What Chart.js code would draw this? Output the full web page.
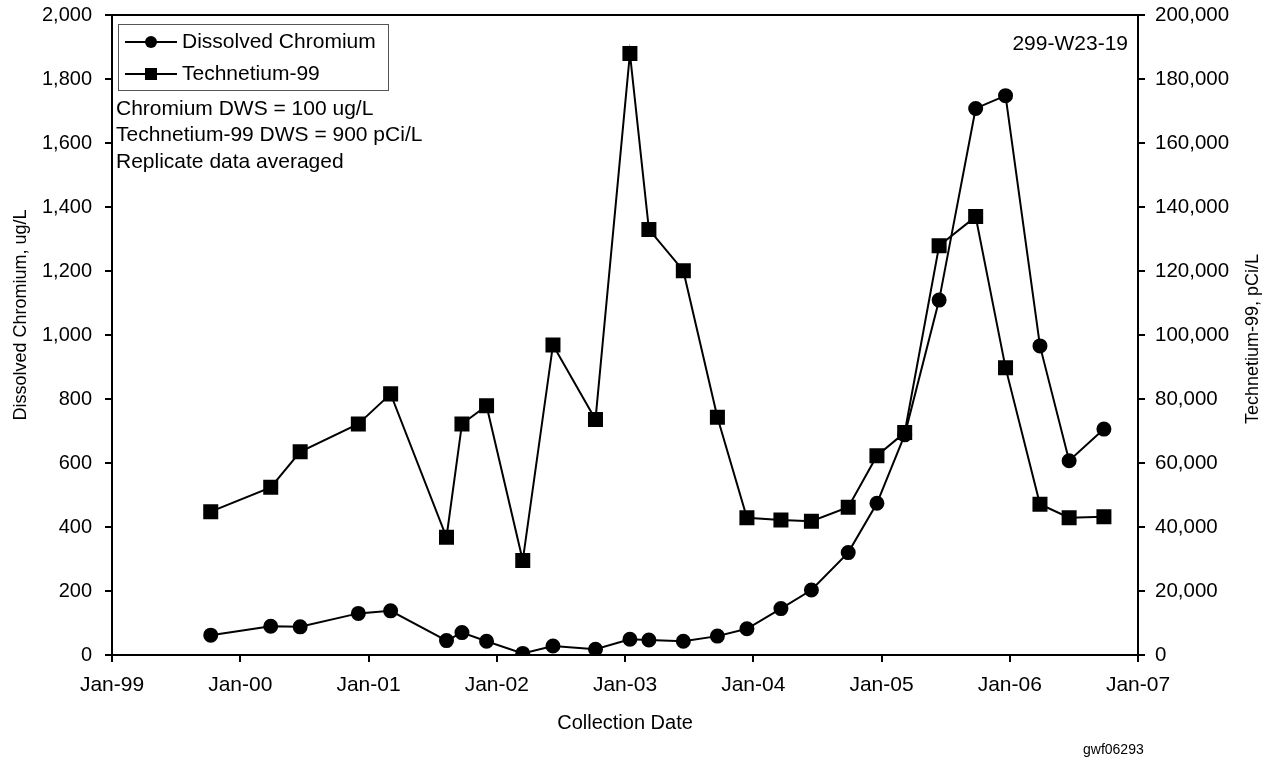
<!DOCTYPE html>
<html>
<head>
<meta charset="utf-8">
<script src="https://cdn.jsdelivr.net/npm/chart.js@4.4.0/dist/chart.umd.min.js"></script>
<style>
  html, body { margin: 0; padding: 0; background: #fff; }
  #wrap { width: 1273px; height: 763px; }
</style>
</head>
<body>
<div id="wrap"><canvas id="chart"></canvas></div>
<script>
// Sample dates
const sampleDates = [
  "1999-10-09", "2000-03-28", "2000-06-20", "2000-12-03", "2001-03-05",
  "2001-08-11", "2001-09-24", "2001-12-03", "2002-03-16", "2002-06-10",
  "2002-10-09", "2003-01-15", "2003-03-10", "2003-06-16", "2003-09-21",
  "2003-12-14", "2004-03-20", "2004-06-15", "2004-09-28", "2004-12-19",
  "2005-03-08", "2005-06-14", "2005-09-26", "2005-12-20", "2006-03-28",
  "2006-06-19", "2006-09-26"
];
// Dissolved chromium, ug/L (left axis)
const chromium = [
  62, 90, 88, 130, 138, 45, 70, 43, 5, 28,
  18, 49, 47, 43, 59, 82, 145, 203, 320, 474,
  688, 1109, 1708, 1748, 966, 607, 706
];
// Technetium-99, pCi/L (right axis)
const technetium = [
  44800, 52400, 63500, 72200, 81600, 36800, 72200, 77900, 29500, 96900,
  73600, 188000, 133000, 120100, 74300, 42900, 42200, 41800, 46200, 62300,
  69500, 127900, 137000, 89800, 47100, 42900, 43200
];
const notes = ["Chromium DWS = 100 ug/L", "Technetium-99 DWS = 900 pCi/L", "Replicate data averaged"];
const wellName = "299-W23-19";
const figureId = "gwf06293";

const FONT = '"Liberation Sans", Arial, sans-serif';
Chart.defaults.font.family = FONT;
Chart.defaults.color = "#000";

// date string -> decimal year
function decYear(s) {
  const d = new Date(s + "T00:00:00Z");
  const y = d.getUTCFullYear();
  const start = Date.UTC(y, 0, 1), end = Date.UTC(y + 1, 0, 1);
  return y + (d.getTime() - start) / (end - start);
}
const xs = sampleDates.map(decYear);

const fmt = v => Number(v).toLocaleString("en-US");

// frame, legend box, notes, axis titles
const extras = {
  id: "extras",
  afterDraw(chart) {
    const ctx = chart.ctx;
    const a = chart.chartArea;
    ctx.save();
    ctx.strokeStyle = "#000";
    ctx.lineWidth = 2;
    ctx.strokeRect(a.left, a.top, a.right - a.left, a.bottom - a.top);

    // legend
    ctx.lineWidth = 1;
    ctx.strokeStyle = "#555";
    ctx.strokeRect(118.5, 24.5, 270, 66);
    const items = [
      { label: "Dissolved Chromium", y: 42, style: "circle" },
      { label: "Technetium-99", y: 74, style: "rect" }
    ];
    items.forEach(it => {
      ctx.strokeStyle = "#000";
      ctx.lineWidth = 2;
      ctx.beginPath();
      ctx.moveTo(125, it.y);
      ctx.lineTo(177, it.y);
      ctx.stroke();
      ctx.fillStyle = "#000";
      if (it.style === "circle") {
        ctx.beginPath();
        ctx.arc(151, it.y, 6, 0, Math.PI * 2);
        ctx.fill();
      } else {
        ctx.fillRect(145, it.y - 6, 12, 12);
      }
      ctx.font = "21px " + FONT;
      ctx.textAlign = "left";
      ctx.textBaseline = "middle";
      ctx.fillText(it.label, 182, it.y);
    });

    // notes
    ctx.font = "21px " + FONT;
    ctx.textAlign = "left";
    ctx.textBaseline = "middle";
    notes.forEach((t, i) => ctx.fillText(t, 116, 109 + i * 26.5));

    ctx.textAlign = "right";
    ctx.fillText(wellName, 1128, 44);

    // axis titles (both read bottom to top)
    ctx.font = "18px " + FONT;
    ctx.textAlign = "center";
    [["Dissolved Chromium, ug/L", 21, 315], ["Technetium-99, pCi/L", 1253, 339]].forEach(t => {
      ctx.save();
      ctx.translate(t[1], t[2]);
      ctx.rotate(-Math.PI / 2);
      ctx.fillText(t[0], 0, 0);
      ctx.restore();
    });

    ctx.font = "14px " + FONT;
    ctx.textAlign = "left";
    ctx.fillText(figureId, 1083, 750);
    ctx.restore();
  }
};

const axisGrid = { drawOnChartArea: false, drawTicks: true, tickLength: 7, color: "#000", lineWidth: 2 };
const axisBorder = { display: true, color: "#000", width: 2 };

new Chart(document.getElementById("chart"), {
  type: "line",
  data: {
    datasets: [
      {
        label: "Dissolved Chromium",
        data: xs.map((x, i) => ({ x: x, y: chromium[i] })),
        yAxisID: "y",
        borderColor: "#000",
        backgroundColor: "#000",
        borderWidth: 2,
        pointStyle: "circle",
        pointRadius: 6.5,
        tension: 0
      },
      {
        label: "Technetium-99",
        data: xs.map((x, i) => ({ x: x, y: technetium[i] })),
        yAxisID: "y2",
        borderColor: "#000",
        backgroundColor: "#000",
        borderWidth: 2,
        pointStyle: "rect",
        pointRadius: 9.2,
        tension: 0
      }
    ]
  },
  options: {
    responsive: true,
    maintainAspectRatio: false,
    animation: false,
    layout: { padding: { top: 15, left: 0, right: 0, bottom: 0 } },
    plugins: { legend: { display: false }, tooltip: { enabled: false } },
    scales: {
      x: {
        type: "linear",
        min: 1999,
        max: 2007,
        ticks: {
          stepSize: 1,
          autoSkip: false,
          maxRotation: 0,
          padding: 11,
          font: { size: 21 },
          callback: v => "Jan-" + String(v).slice(2)
        },
        grid: axisGrid,
        border: axisBorder,
        title: { display: true, text: "Collection Date", font: { size: 20 }, padding: { bottom: 28 } },
        afterFit: s => { s.height = 108; }
      },
      y: {
        position: "left",
        min: 0,
        max: 2000,
        ticks: { stepSize: 200, padding: 13, font: { size: 20 }, callback: fmt },
        grid: axisGrid,
        border: axisBorder,
        afterFit: s => { s.width = 112; s.paddingTop = 0; s.paddingBottom = 0; }
      },
      y2: {
        position: "right",
        min: 0,
        max: 200000,
        ticks: { stepSize: 20000, padding: 10, font: { size: 20.5 }, callback: fmt },
        grid: axisGrid,
        border: axisBorder,
        afterFit: s => { s.width = 135; s.paddingTop = 0; s.paddingBottom = 0; }
      }
    }
  },
  plugins: [extras]
});
</script>
</body>
</html>
